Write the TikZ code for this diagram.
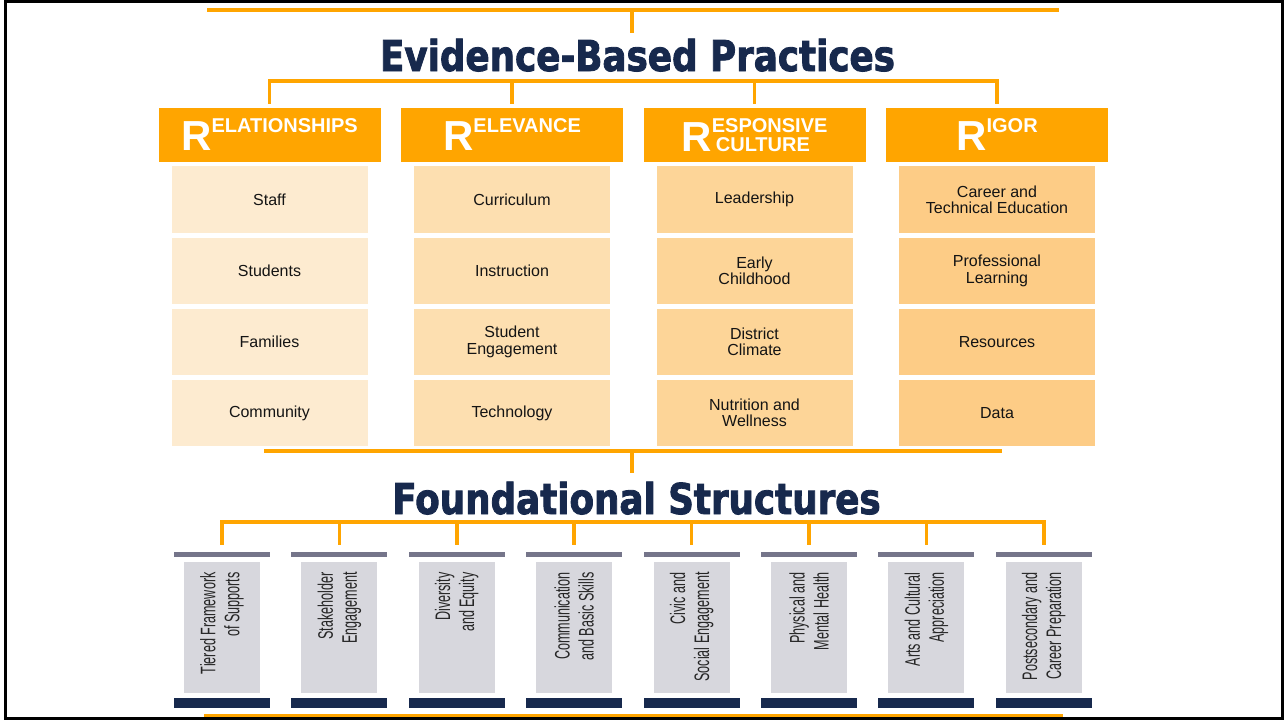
\documentclass[tikz,border=0pt]{standalone}
\usepackage{fontspec}
\setmainfont{Liberation Sans}
\newfontfamily\headfont{DejaVu Sans}[FakeStretch=0.84,FakeBold=2]
\newfontfamily\pillarfont{Liberation Sans}[FakeStretch=0.6]
\usepackage{xcolor}
\usepackage{tikz}
\usetikzlibrary{positioning}

\definecolor{ebporange}{RGB}{255,165,0}
\definecolor{ebpnavy}{RGB}{23,41,77}
\definecolor{relfill}{RGB}{253,235,208}
\definecolor{revfill}{RGB}{253,223,176}
\definecolor{rcfill}{RGB}{253,213,152}
\definecolor{rigfill}{RGB}{253,204,134}
\definecolor{capgray}{RGB}{117,117,138}
\definecolor{shaftgray}{RGB}{215,215,221}

\newcommand{\bigR}{{\fontsize{42}{42}\selectfont R}}

\begin{document}
\begin{tikzpicture}[x=1pt,y=-1pt]
      \tikzstyle{link}=[draw=ebporange, line width=3.5pt]
      \tikzstyle{header}=[fill=ebporange, minimum width=222pt, minimum height=54pt, inner sep=0pt, text=white, font=\fontsize{20}{19}\selectfont\bfseries]
      \tikzstyle{item}=[minimum width=196pt, minimum height=66.5pt, inner sep=0pt, align=center, text=black!92, font=\fontsize{16}{16.5}\selectfont]
      \tikzstyle{title}=[anchor=base, inner sep=0pt, text=ebpnavy, font=\headfont\bfseries\fontsize{42.5}{42.5}\selectfont]
      \tikzstyle{pillarcap}=[fill=capgray, minimum width=96pt, minimum height=5pt, inner sep=0pt]
      \tikzstyle{shaft}=[fill=shaftgray, minimum width=76pt, minimum height=131pt, inner sep=0pt]
      \tikzstyle{pillarbase}=[fill=ebpnavy, minimum width=96pt, minimum height=10pt, inner sep=0pt]
      \tikzstyle{pillartext}=[rotate=90, anchor=east, align=right, inner sep=0pt, text=black!85, font=\pillarfont\fontsize{21}{24}\selectfont]

      \useasboundingbox (0,0) rectangle (1288,721);

      % titles
      \node (ebp) [title] at (637.5,71) {Evidence-Based Practices};
      \node (found) [title] at (636.5,514) {Foundational Structures};

      \begin{scope}
        \node (relhdr) [header] at (269.5,135) {\bigR\raisebox{18pt}{ELATIONSHIPS}};
        \node (staff) [item, fill=relfill, below=4pt of relhdr] {Staff};
        \node (students) [item, fill=relfill, below=4.2pt of staff] {Students};
        \node (families) [item, fill=relfill, below=4.2pt of students] {Families};
        \node (community) [item, fill=relfill, below=4.2pt of families] {Community};
      \end{scope}

      \begin{scope}
        \node (revhdr) [header] at (512,135) {\bigR\raisebox{18pt}{ELEVANCE}};
        \node (curriculum) [item, fill=revfill, below=4pt of revhdr] {Curriculum};
        \node (instruction) [item, fill=revfill, below=4.2pt of curriculum] {Instruction};
        \node (engagement) [item, fill=revfill, below=4.2pt of instruction] {Student\\Engagement};
        \node (technology) [item, fill=revfill, below=4.2pt of engagement] {Technology};
      \end{scope}

      \begin{scope}
        \node (rchdr) [header] at (754.5,135) {\bigR\shortstack[l]{ESPONSIVE\\[2.5pt]\hspace{4pt}CULTURE}};
        \node (leadership) [item, fill=rcfill, below=4pt of rchdr] {Leadership};
        \node (childhood) [item, fill=rcfill, below=4.2pt of leadership] {Early\\Childhood};
        \node (climate) [item, fill=rcfill, below=4.2pt of childhood] {District\\Climate};
        \node (wellness) [item, fill=rcfill, below=4.2pt of climate] {Nutrition and\\Wellness};
      \end{scope}

      \begin{scope}
        \node (righdr) [header] at (997,135) {\bigR\raisebox{18pt}{IGOR}};
        \node (career) [item, fill=rigfill, below=4pt of righdr] {Career and\\Technical Education};
        \node (learning) [item, fill=rigfill, below=4.2pt of career] {Professional\\Learning};
        \node (resources) [item, fill=rigfill, below=4.2pt of learning] {Resources};
        \node (data) [item, fill=rigfill, below=4.2pt of resources] {Data};
      \end{scope}

      % pillars
      \node (cap1) [pillarcap] at (222,554.5) {};
      \node (shaft1) [shaft, below=5pt of cap1] {};
      \node (base1) [pillarbase, below=4pt of shaft1] {};
      \node (text1) [pillartext] at ([yshift=-10pt]shaft1.north) {Tiered Framework\\of Supports};

      \node (cap2) [pillarcap] at (339.4,554.5) {};
      \node (shaft2) [shaft, below=5pt of cap2] {};
      \node (base2) [pillarbase, below=4pt of shaft2] {};
      \node (text2) [pillartext] at ([yshift=-10pt]shaft2.north) {Stakeholder\\Engagement};

      \node (cap3) [pillarcap] at (456.8,554.5) {};
      \node (shaft3) [shaft, below=5pt of cap3] {};
      \node (base3) [pillarbase, below=4pt of shaft3] {};
      \node (text3) [pillartext] at ([yshift=-10pt]shaft3.north) {Diversity\\and Equity};

      \node (cap4) [pillarcap] at (574.2,554.5) {};
      \node (shaft4) [shaft, below=5pt of cap4] {};
      \node (base4) [pillarbase, below=4pt of shaft4] {};
      \node (text4) [pillartext] at ([yshift=-10pt]shaft4.north) {Communication\\and Basic Skills};

      \node (cap5) [pillarcap] at (691.6,554.5) {};
      \node (shaft5) [shaft, below=5pt of cap5] {};
      \node (base5) [pillarbase, below=4pt of shaft5] {};
      \node (text5) [pillartext] at ([yshift=-10pt]shaft5.north) {Civic and\\Social Engagement};

      \node (cap6) [pillarcap] at (809,554.5) {};
      \node (shaft6) [shaft, below=5pt of cap6] {};
      \node (base6) [pillarbase, below=4pt of shaft6] {};
      \node (text6) [pillartext] at ([yshift=-10pt]shaft6.north) {Physical and\\Mental Health};

      \node (cap7) [pillarcap] at (926.4,554.5) {};
      \node (shaft7) [shaft, below=5pt of cap7] {};
      \node (base7) [pillarbase, below=4pt of shaft7] {};
      \node (text7) [pillartext] at ([yshift=-10pt]shaft7.north) {Arts and Cultural\\Appreciation};

      \node (cap8) [pillarcap] at (1043.8,554.5) {};
      \node (shaft8) [shaft, below=5pt of cap8] {};
      \node (base8) [pillarbase, below=4pt of shaft8] {};
      \node (text8) [pillartext] at ([yshift=-10pt]shaft8.north) {Postsecondary and\\Career Preparation};

      % orange brackets
      \coordinate (topleft) at (207,10);
      \coordinate (topright) at (1059,10);
      \coordinate (topdrop) at (632,10);
      \coordinate (midleft) at (264,451);
      \coordinate (midright) at (1002,451);
      \coordinate (middrop) at (632,451);
      \coordinate (botleft) at (204,715.5);
      \coordinate (botright) at (1063,715.5);

      \draw[link] (topleft) -- (topright);
      \draw[link] (topdrop) -- ++(0,23);
      \draw[link] ([yshift=4pt]relhdr.north) -- ++(0,-23) -| ([yshift=4pt]righdr.north);
      \draw[link] ([yshift=4pt]revhdr.north) -- ++(0,-23);
      \draw[link] ([yshift=4pt]rchdr.north) -- ++(0,-23);
      \draw[link] (midleft) -- (midright);
      \draw[link] (middrop) -- ++(0,22);
      \draw[link] ([yshift=7pt]cap1.north) -- ++(0,-23) -| ([yshift=7pt]cap8.north);
      \draw[link] ([yshift=7pt]cap2.north) -- ++(0,-23);
      \draw[link] ([yshift=7pt]cap3.north) -- ++(0,-23);
      \draw[link] ([yshift=7pt]cap4.north) -- ++(0,-23);
      \draw[link] ([yshift=7pt]cap5.north) -- ++(0,-23);
      \draw[link] ([yshift=7pt]cap6.north) -- ++(0,-23);
      \draw[link] ([yshift=7pt]cap7.north) -- ++(0,-23);
      \draw[link] (botleft) -- (botright);

      % frame
      \draw[line width=3pt] (5.3,1.8) rectangle (1282.5,718.5);
\end{tikzpicture}
\end{document}
